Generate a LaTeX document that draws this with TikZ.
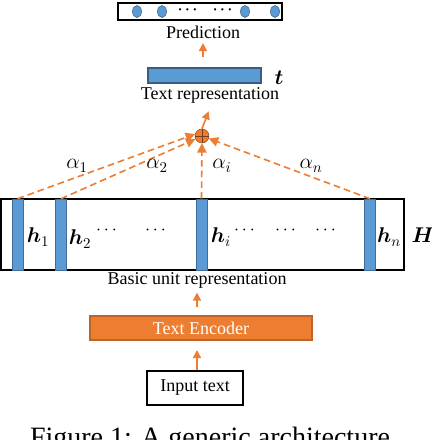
\RequirePackage{fix-cm}
\documentclass[tikz,border=0pt]{standalone}
\usepackage{amsmath,amssymb,bm}
\usepackage{fontspec}
\setmainfont{Liberation Serif}
\usetikzlibrary{arrows.meta}
\definecolor{unitblue}{RGB}{91,155,213}
\definecolor{encorange}{RGB}{237,125,49}

\begin{document}
\begin{tikzpicture}[x=0.75pt,y=-0.75pt,font=\fontsize{13.5}{15}\selectfont,
  flow/.style={encorange,line width=1.2pt,-{Triangle[length=6pt,width=6pt]}},
  attn/.style={encorange,line width=1.2pt,dash pattern=on 5pt off 3pt,-{Triangle[length=7pt,width=7pt]}},
  unitbar/.style={draw=unitblue!70!black,fill=unitblue,minimum width=8.25pt,minimum height=53.25pt,inner sep=0pt},
  mathlab/.style={font=\fontsize{16}{18}\selectfont,inner sep=0pt}]
\useasboundingbox (0,0) rectangle (432,440);

% prediction
\node[draw,line width=1.3pt,minimum width=123pt,minimum height=12.75pt,inner sep=0pt] (pred) at (200,11.5) {};
\foreach \x in {137,162,245,275}
  \draw[fill=unitblue,draw=unitblue!60!black] (\x,11.5) ellipse (4.5 and 6);
\node[inner sep=0pt,font=\fontsize{11}{12}\selectfont] at (189,10.5) {$\bm{\cdots}$};
\node[inner sep=0pt,font=\fontsize{11}{12}\selectfont] at (224,10.5) {$\bm{\cdots}$};
\node (predlab) at (203,32) {Prediction};

% text representation
\node[draw=unitblue!60!black,fill=unitblue,line width=1pt,minimum width=84.75pt,minimum height=11.25pt,inner sep=0pt] (tvec) at (204.5,75.5) {};
\node[mathlab] at (279,78) {$\bm{t}$};
\node (tlab) at (210,95) {Text representation};
\node[circle,draw=encorange!60!black,fill=encorange,minimum size=10.5pt,inner sep=0pt] (sum) at (202,136) {};
\draw[encorange!50!black] (sum.north) -- (sum.south) (sum.west) -- (sum.east);

% basic units
\node[draw,line width=1.3pt,minimum width=302.25pt,minimum height=53.25pt,inner sep=0pt] (H) at (202.5,234.5) {};
\node[unitbar] (b1) at (17.5,234.5) {};
\node[unitbar] (b2) at (61,234.5) {};
\node[unitbar] (bi) at (201.5,234.5) {};
\node[unitbar] (bn) at (370,234.5) {};
\node[mathlab] at (38,237) {$\bm{h}_1$};
\node[mathlab] at (80,239) {$\bm{h}_2$};
\node[mathlab] at (221,237) {$\bm{h}_i$};
\node[mathlab] at (389,237) {$\bm{h}_n$};
\foreach \x in {108,157,246,287,327}
  \node[inner sep=0pt] at (\x,230) {$\cdots$};
\node[mathlab] at (423,235) {$\bm{H}$};
\node (hlab) at (197,280) {Basic unit representation};

% attention
\draw[attn] (b1.north) -- (sum.165);
\draw[attn] (b2.north) -- (sum.205);
\draw[attn] (bi.north) -- (sum);
\draw[attn] (bn.north) -- (sum);
\node[mathlab] at (77,166) {$\alpha_1$};
\node[mathlab] at (157,166) {$\alpha_2$};
\node[mathlab] at (222,166) {$\alpha_i$};
\node[mathlab] at (311,166) {$\alpha_n$};

% encoder
\node[draw=encorange!80!black,fill=encorange,line width=1pt,text=white,minimum width=166.5pt,minimum height=18pt,inner sep=0pt] (enc) at (201,328) {Text Encoder};
\node[draw,line width=1.3pt,minimum width=72pt,minimum height=25.5pt,inner sep=0pt] (input) at (195,388) {Input text};

% arrows
\draw[flow,shorten >=7pt] ([xshift=1.5pt]input.north) -- ([xshift=1.5pt]input.north |- enc.south);
\draw[flow,shorten <=6pt] (enc.north -| hlab) -- (hlab.south);
\draw[flow,shorten >=3pt] (sum.north) -- (tlab.south);
\draw[flow,shorten <=8pt] (tvec.north -| predlab) -- (predlab.south);

\node[font=\fontsize{21}{24}\selectfont,anchor=base] (cap) at (210,446) {Figure 1: A generic architecture};
\end{tikzpicture}
\end{document}
